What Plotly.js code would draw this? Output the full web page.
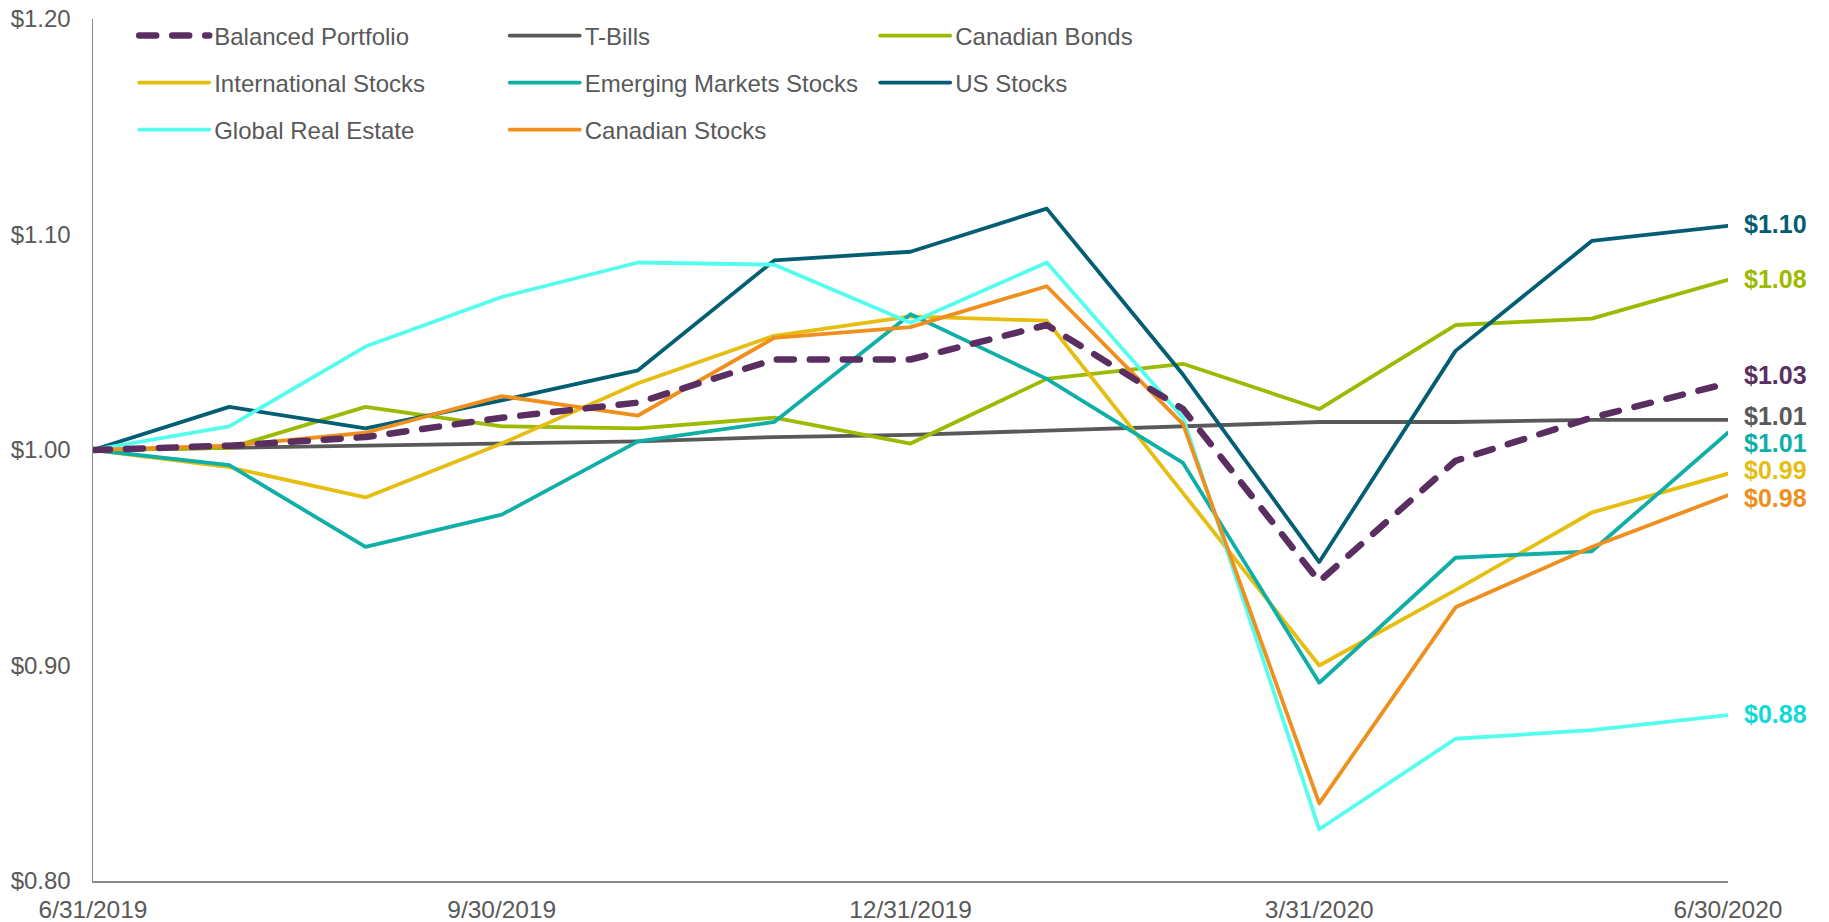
<!DOCTYPE html>
<html>
<head>
<meta charset="utf-8">
<script src="https://cdn.plot.ly/plotly-3.0.1.min.js"></script>
<style>
  html, body { margin: 0; padding: 0; background: #ffffff; }
  #chart { width: 1829px; height: 922px; }
  path.js-line { stroke-linecap: round !important; stroke-linejoin: round !important; }
</style>
</head>
<body>
<div id="chart"></div>
<script>
// ---- Data ----
const dates = ['6/31/2019','7/31/2019','8/31/2019','9/30/2019','10/31/2019','11/30/2019','12/31/2019',
               '1/31/2020','2/29/2020','3/31/2020','4/30/2020','5/31/2020','6/30/2020'];
const tickLabels = ['6/31/2019','9/30/2019','12/31/2019','3/31/2020','6/30/2020'];
const yTickValues = [0.80, 0.90, 1.00, 1.10, 1.20];
const yTickLabels = ['$0.80', '$0.90', '$1.00', '$1.10', '$1.20'];

const balancedPortfolio   = [1.000, 1.002, 1.006, 1.015, 1.022, 1.042, 1.042, 1.058, 1.019, 0.939, 0.995, 1.015, 1.031];
const tBills              = [1.000, 1.001, 1.002, 1.003, 1.004, 1.006, 1.007, 1.009, 1.011, 1.013, 1.013, 1.014, 1.014];
const canadianBonds       = [1.000, 1.001, 1.020, 1.011, 1.010, 1.015, 1.003, 1.033, 1.040, 1.019, 1.058, 1.061, 1.079];
const internationalStocks = [1.000, 0.992, 0.978, 1.003, 1.031, 1.053, 1.062, 1.060, 0.980, 0.900, 0.935, 0.971, 0.989];
const emergingStocks      = [1.000, 0.993, 0.955, 0.970, 1.004, 1.013, 1.063, 1.033, 0.994, 0.892, 0.950, 0.953, 1.008];
const usStocks            = [1.000, 1.020, 1.010, 1.023, 1.037, 1.088, 1.092, 1.112, 1.035, 0.948, 1.046, 1.097, 1.104];
const globalRealEstate    = [1.000, 1.011, 1.048, 1.071, 1.087, 1.086, 1.059, 1.087, 1.015, 0.824, 0.866, 0.870, 0.877];
const canadianStocks      = [1.000, 1.002, 1.008, 1.025, 1.016, 1.052, 1.057, 1.076, 1.012, 0.836, 0.927, 0.955, 0.979];

// ---- Styles ----
const series = [
  {name:'Balanced Portfolio',      y:balancedPortfolio,   color:'#5A2E60', label:'#5A2E60', width:6.5, dash:'17px,16px', legend:'legend',  rank:1, shift:8,   z:8},
  {name:'T-Bills',                 y:tBills,              color:'#595959', label:'#595959', width:3.8, dash:'solid',     legend:'legend',  rank:2, shift:4,   z:0},
  {name:'Canadian Bonds',          y:canadianBonds,       color:'#9BBA00', label:'#9BBA00', width:3.8, dash:'solid',     legend:'legend',  rank:3, shift:1,   z:1},
  {name:'International Stocks',    y:internationalStocks, color:'#E6BE12', label:'#E6BE12', width:3.8, dash:'solid',     legend:'legend2', rank:4, shift:4,   z:2},
  {name:'Emerging Markets Stocks', y:emergingStocks,      color:'#0FAFA8', label:'#0FAFA8', width:3.8, dash:'solid',     legend:'legend2', rank:5, shift:-10, z:3},
  {name:'US Stocks',               y:usStocks,            color:'#035E73', label:'#035E73', width:3.8, dash:'solid',     legend:'legend2', rank:6, shift:2,   z:4},
  {name:'Global Real Estate',      y:globalRealEstate,    color:'#55FDEE', label:'#12D8D8', width:3.8, dash:'solid',     legend:'legend3', rank:7, shift:1,   z:5},
  {name:'Canadian Stocks',         y:canadianStocks,      color:'#EF8F1E', label:'#EF8F1E', width:3.8, dash:'solid',     legend:'legend3', rank:8, shift:-3,  z:6}
];

const drawOrder = series.slice().sort((a,b) => a.z - b.z);
const traces = drawOrder.map(s => ({
  type:'scatter', mode:'lines', x:dates, y:s.y, name:s.name,
  line:{color:s.color, width:s.width, dash:s.dash},
  legend:s.legend, legendrank:s.rank, hoverinfo:'skip'
}));

const lastIdx = dates.length - 1;
const annotations = series.map(s => ({
  x: dates[lastIdx], y: s.y[lastIdx], xref:'x', yref:'y',
  text: '$' + s.y[lastIdx].toFixed(2),
  showarrow:false, xanchor:'left', yanchor:'middle', xshift:15, yshift:s.shift,
  borderpad:0,
  font:{family:'Liberation Sans, Arial, sans-serif', size:25, color:s.label, weight:'bold'}
}));

const legendFont = {family:'Liberation Sans, Arial, sans-serif', size:24, color:'#595959'};
function legendAt(y){
  return {orientation:'h', x:0.0252, xanchor:'left', y:y, yanchor:'middle',
          font:legendFont, bgcolor:'rgba(0,0,0,0)', borderwidth:0,
          itemwidth:70, entrywidth:285.5, entrywidthmode:'pixels', traceorder:'normal'};
}

const layout = {
  width:1829, height:922,
  margin:{l:93, r:101, t:19, b:41, pad:0},
  paper_bgcolor:'#ffffff', plot_bgcolor:'#ffffff',
  font:{family:'Liberation Sans, Arial, sans-serif', size:24, color:'#595959'},
  showlegend:true,
  legend: legendAt(0.9803),
  legend2: legendAt(0.9258),
  legend3: legendAt(0.8712),
  xaxis:{
    type:'category', range:[0, lastIdx], autorange:false,
    tickmode:'array', tickvals:tickLabels, ticktext:tickLabels,
    showline:true, linecolor:'#8C8C8C', linewidth:1.5,
    showgrid:false, zeroline:false, ticks:'',
    tickfont:{family:'Liberation Sans, Arial, sans-serif', size:24.5, color:'#595959'},
    ticklabelstandoff:6
  },
  yaxis:{
    range:[0.80, 1.20], autorange:false,
    tickmode:'array', tickvals:yTickValues, ticktext:yTickLabels,
    showline:true, linecolor:'#8C8C8C', linewidth:1.5,
    showgrid:false, zeroline:false, ticks:'',
    tickfont:{family:'Liberation Sans, Arial, sans-serif', size:24, color:'#595959'},
    ticklabelstandoff:16
  },
  annotations: annotations
};

Plotly.newPlot('chart', traces, layout, {displayModeBar:false, staticPlot:true});
</script>
</body>
</html>
